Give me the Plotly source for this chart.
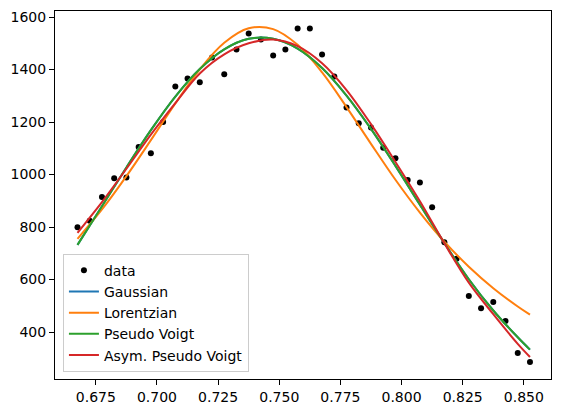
import plotly.graph_objects as go

# measured points
data_x = [0.6675, 0.6725, 0.6775, 0.6825, 0.6875, 0.6925, 0.6975, 0.7025, 0.7075, 0.7125,
          0.7175, 0.7225, 0.7275, 0.7325, 0.7375, 0.7425, 0.7475, 0.7525, 0.7575, 0.7625,
          0.7675, 0.7725, 0.7775, 0.7825, 0.7875, 0.7925, 0.7975, 0.8025, 0.8075, 0.8125,
          0.8175, 0.8225, 0.8275, 0.8325, 0.8375, 0.8425, 0.8475, 0.8525]
data_y = [799, 824, 914, 986, 989, 1105, 1081, 1200, 1335, 1366,
          1352, 1446, 1382, 1476, 1537, 1514, 1453, 1476, 1556, 1556,
          1457, 1373, 1255, 1195, 1179, 1102, 1062, 979, 970, 875,
          742, 679, 537, 491, 514, 442, 320, 286]

fit_x = [0.6675, 0.6775, 0.6875, 0.6975, 0.7075, 0.7175, 0.7275, 0.7375, 0.7475, 0.7575,
         0.7675, 0.7775, 0.7875, 0.7975, 0.8075, 0.8175, 0.8275, 0.8375, 0.8475, 0.8525]
gauss_y = [732, 879, 1027, 1169, 1297, 1402, 1477, 1517, 1517, 1480,
           1406, 1301, 1174, 1033, 885, 739, 601, 482, 380, 333]
lorentz_y = [755, 867, 994, 1131, 1271, 1401, 1502, 1557, 1554, 1494,
             1389, 1257, 1117, 980, 855, 744, 649, 567, 497, 466]
pvoigt_y = [732, 879, 1027, 1169, 1297, 1402, 1477, 1517, 1517, 1480,
            1406, 1301, 1174, 1033, 885, 739, 601, 482, 380, 333]
apvoigt_y = [778, 895, 1022, 1152, 1272, 1385, 1458, 1500, 1514, 1489,
             1424, 1322, 1192, 1048, 898, 738, 588, 468, 355, 305]

fig = go.Figure()

fig.add_trace(go.Scatter(x=data_x, y=data_y, mode='markers', name='data',
                         marker=dict(color='black', size=6)))

curves = [('Gaussian', gauss_y, '#1f77b4'),
          ('Lorentzian', lorentz_y, '#ff7f0e'),
          ('Pseudo Voigt', pvoigt_y, '#2ca02c'),
          ('Asym. Pseudo Voigt', apvoigt_y, '#d62728')]
for name, ys, color in curves:
    fig.add_trace(go.Scatter(x=fit_x, y=ys, mode='lines', name=name,
                             line=dict(color=color, width=2, shape='spline', smoothing=1.0)))

axis_style = dict(showgrid=False, zeroline=False, showline=True, mirror=True,
                  linecolor='black', linewidth=1, ticks='outside', ticklen=5,
                  tickwidth=1, tickcolor='black', automargin=False,
                  tickfont=dict(family='DejaVu Sans', size=14, color='black'))

fig.update_xaxes(range=[0.6583, 0.8611], tickvals=[0.675, 0.700, 0.725, 0.750, 0.775, 0.800, 0.825, 0.850],
                 tickformat='.3f', **axis_style)
fig.update_yaxes(range=[221, 1623], tickvals=[400, 600, 800, 1000, 1200, 1400, 1600], **axis_style)

fig.update_layout(width=561, height=413,
                  margin=dict(l=55, r=10, t=11, b=34, autoexpand=False),
                  plot_bgcolor='white', paper_bgcolor='white',
                  font=dict(family='DejaVu Sans', size=14, color='black'),
                  legend=dict(x=0.016, y=0.02, xanchor='left', yanchor='bottom',
                              bgcolor='rgba(255,255,255,0.8)', bordercolor='#cccccc', borderwidth=1,
                              font=dict(family='DejaVu Sans', size=14, color='black'),
                              itemwidth=30, tracegroupgap=0))

# drop the browser's default page margin so the figure sits at the window corner
fig.write_html("out.html", config={'displayModeBar': False},
               post_script="document.body.style.margin='0';")
